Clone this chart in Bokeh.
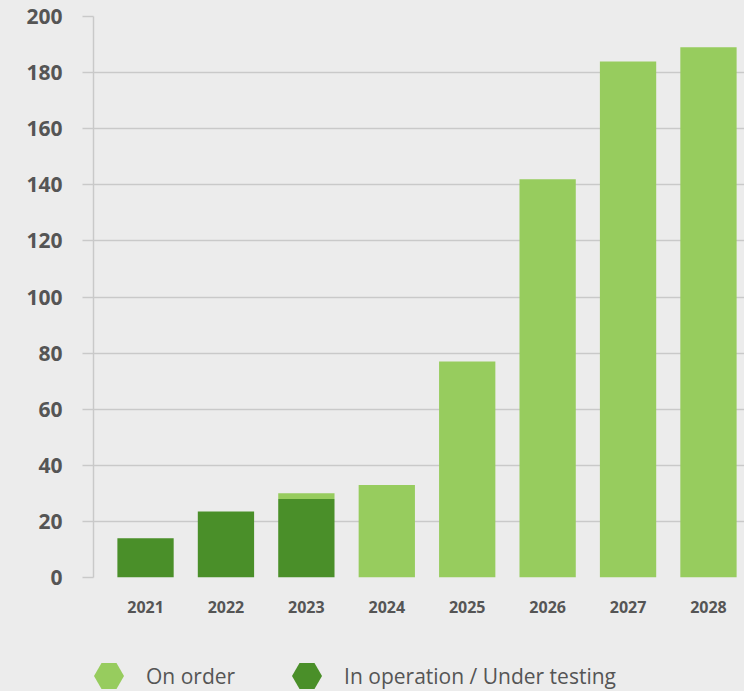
from bokeh.plotting import figure
from bokeh.layouts import column
from bokeh.models import Range1d, FixedTicker, Legend, LegendItem, ColumnDataSource
from bokeh.embed import file_html
from bokeh.resources import INLINE

years = ["2021", "2022", "2023", "2024", "2025", "2026", "2027", "2028"]
in_operation = [14, 23.5, 28, 0, 0, 0, 0, 0]
on_order = [0, 0, 2, 33, 77, 142, 184, 189]
y_ticks = [0, 20, 40, 60, 80, 100, 120, 140, 160, 180, 200]
legend_labels = ["On order", "In operation / Under testing"]

DARK = "#4a8f29"
LIGHT = "#97cc5e"
BG = "#ececec"
GRID = "#c9c9c9"
TXT = "#555555"
FONT = "Open Sans"

source = ColumnDataSource(dict(
    x=list(range(len(years))),
    in_operation=in_operation,
    on_order=on_order,
))

p = figure(width=744, height=630, output_backend="svg", toolbar_location=None,
           x_range=Range1d(-0.647, 7.448), y_range=Range1d(0, 200),
           min_border_left=93, min_border_right=0, min_border_top=16, min_border_bottom=53)
p.background_fill_color = BG
p.border_fill_color = BG
p.outline_line_color = None

p.vbar_stack(["in_operation", "on_order"], x="x", width=0.7, source=source,
             color=[DARK, LIGHT], line_color=None)

# x axis
p.xaxis.ticker = FixedTicker(ticks=list(range(len(years))))
p.xaxis.major_label_overrides = {i: y for i, y in enumerate(years)}
p.xaxis.axis_line_color = None
p.xaxis.major_tick_line_color = None
p.xaxis.minor_tick_line_color = None
p.xaxis.major_tick_out = 0
p.xaxis.major_label_standoff = 23
p.xaxis.major_label_text_font = FONT
p.xaxis.major_label_text_font_style = "bold"
p.xaxis.major_label_text_font_size = "16px"
p.xaxis.major_label_text_color = TXT
p.xgrid.grid_line_color = None

# y axis
p.yaxis.ticker = FixedTicker(ticks=y_ticks)
p.yaxis.axis_line_color = GRID
p.yaxis.axis_line_width = 1.5
p.yaxis.major_tick_line_color = GRID
p.yaxis.major_tick_line_width = 1.5
p.yaxis.major_tick_out = 11
p.yaxis.major_tick_in = 0
p.yaxis.minor_tick_line_color = None
p.yaxis.major_label_standoff = 20
p.yaxis.major_label_text_font = FONT
p.yaxis.major_label_text_font_style = "bold"
p.yaxis.major_label_text_font_size = "21px"
p.yaxis.major_label_text_color = TXT
p.ygrid.ticker = FixedTicker(ticks=y_ticks)
p.ygrid.grid_line_color = GRID
p.ygrid.grid_line_width = 1.5

# legend strip
pl = figure(width=744, height=61, output_backend="svg", toolbar_location=None,
            x_axis_location=None, y_axis_location=None,
            min_border_left=0, min_border_right=0, min_border_top=0, min_border_bottom=0)
pl.background_fill_alpha = 0
pl.border_fill_color = BG
pl.outline_line_color = None
pl.grid.grid_line_color = None
nan = float("nan")
r_light = pl.scatter(x=[nan], y=[nan], marker="hex", size=30, color=LIGHT, line_color=None)
r_dark = pl.scatter(x=[nan], y=[nan], marker="hex", size=30, color=DARK, line_color=None)

legend = Legend(items=[LegendItem(label=legend_labels[0], renderers=[r_light]),
                       LegendItem(label=legend_labels[1], renderers=[r_dark])],
                orientation="horizontal", location=(-22, -22),
                glyph_width=75, glyph_height=75, label_standoff=0, spacing=34,
                padding=0, margin=0,
                border_line_color=None, background_fill_alpha=0,
                label_text_font=FONT, label_text_font_size="21px", label_text_color=TXT)
pl.add_layout(legend, "center")

layout = column(p, pl, spacing=0, styles={"background-color": BG})
open("out.html", "w").write(file_html(layout, INLINE))
